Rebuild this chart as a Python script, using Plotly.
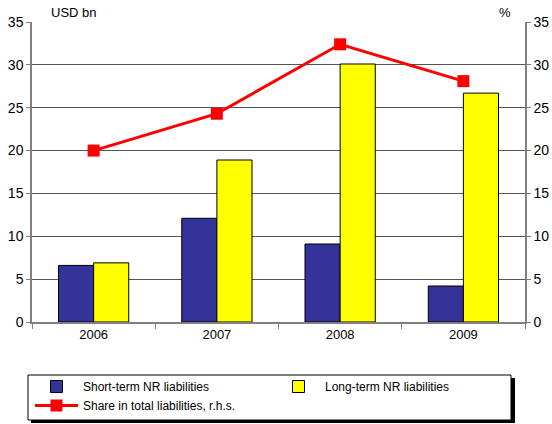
import plotly.graph_objects as go

years = ["2006", "2007", "2008", "2009"]
short_term = [6.6, 12.1, 9.1, 4.2]
long_term = [6.9, 18.9, 30.1, 26.7]
share = [20.0, 24.3, 32.4, 28.1]

FONT = "Liberation Sans, Arial, sans-serif"

fig = go.Figure()
fig.add_trace(go.Bar(x=years, y=short_term, name="Short-term NR liabilities",
                     marker=dict(color="#333399", line=dict(color="black", width=1))))
fig.add_trace(go.Bar(x=years, y=long_term, name="Long-term NR liabilities",
                     marker=dict(color="#FFFF00", line=dict(color="black", width=1))))
fig.add_trace(go.Scatter(x=years, y=share, name="Share in total liabilities, r.h.s.",
                         yaxis="y2", mode="lines+markers",
                         line=dict(color="#FF0000", width=3),
                         marker=dict(symbol="square", size=12, color="#FF0000")))

# plot area: x 32..525 px, y 22..322 px  (493 x 300)
def px_x(p):
    return (p - 32) / 493.0

def px_y(p):
    return (322 - p) / 300.0

# legend shadow and box
fig.add_shape(type="rect", xref="paper", yref="paper",
              x0=px_x(31), x1=px_x(515), y0=px_y(423), y1=px_y(378),
              fillcolor="black", line=dict(width=0), layer="below")
fig.add_shape(type="rect", xref="paper", yref="paper",
              x0=px_x(28), x1=px_x(511), y0=px_y(420), y1=px_y(375),
              fillcolor="white", line=dict(color="black", width=1), layer="below")

fig.update_layout(
    width=552, height=424,
    margin=dict(l=32, r=27, t=22, b=102, autoexpand=False),
    paper_bgcolor="white", plot_bgcolor="white",
    font=dict(family=FONT, size=13, color="black"),
    barmode="group", bargap=0.43, bargroupgap=0,
    showlegend=True,
    legend=dict(orientation="h", x=px_x(30), y=px_y(372), xanchor="left", yanchor="top",
                bgcolor="rgba(0,0,0,0)", borderwidth=0,
                entrywidth=184, entrywidthmode="pixels",
                font=dict(size=12, family=FONT), tracegroupgap=0,
                itemwidth=43, traceorder="normal"),
    xaxis=dict(showline=True, linecolor="#808080", linewidth=1.5, automargin=False,
               ticks="outside", tickson="boundaries", ticklen=5, tickcolor="#808080",
               tickfont=dict(size=13)),
    yaxis=dict(range=[0, 35], dtick=5, showgrid=True, gridcolor="#555555", gridwidth=1,
               showline=True, linecolor="#808080", linewidth=1.5, automargin=False,
               ticks="outside", ticklen=4, tickcolor="#808080",
               zeroline=False, tickfont=dict(size=14)),
    yaxis2=dict(range=[0, 35], dtick=5, overlaying="y", side="right", showgrid=False,
                showline=True, linecolor="#808080", linewidth=1.5, automargin=False,
                ticks="outside", ticklen=4, tickcolor="#808080",
                zeroline=False, tickfont=dict(size=14)),
    annotations=[
        dict(text="USD bn", xref="paper", yref="paper", x=px_x(49), y=1.0, xanchor="left",
             yanchor="bottom", showarrow=False, font=dict(size=13)),
        dict(text="%", xref="paper", yref="paper", x=px_x(505), y=1.0, xanchor="center",
             yanchor="bottom", showarrow=False, font=dict(size=13)),
    ],
)

fig.write_html("out.html", config={"displayModeBar": False},
               post_script="document.body.style.margin='0';")
